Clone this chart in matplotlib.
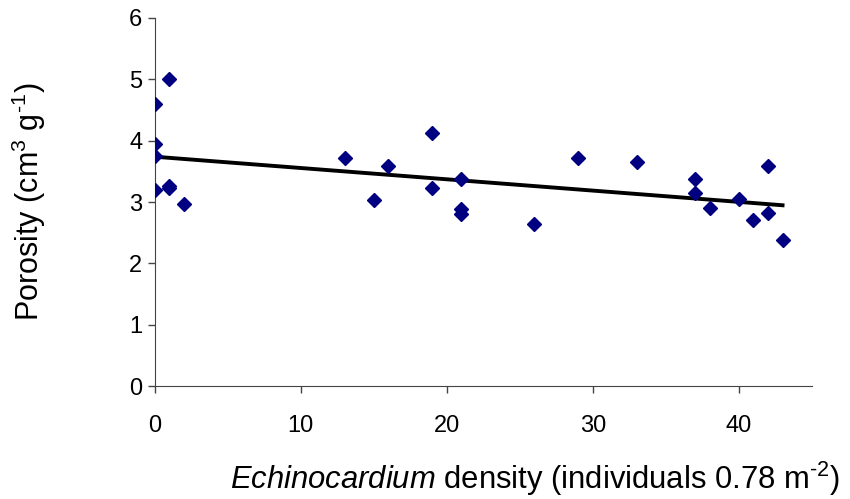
import numpy as np
import matplotlib.pyplot as plt

plt.rcParams['font.family'] = ['Liberation Sans', 'DejaVu Sans']
plt.rcParams['mathtext.fontset'] = 'custom'
plt.rcParams['mathtext.rm'] = 'Liberation Sans'
plt.rcParams['mathtext.it'] = 'Liberation Sans:italic'

# Echinocardium density vs porosity
density = [0, 1, 0, 0, 0, 1, 1, 2, 13, 15, 16, 19, 19, 21, 21, 21,
           26, 29, 33, 37, 37, 38, 40, 41, 42, 42, 43]
porosity = [4.60, 5.00, 3.94, 3.75, 3.19, 3.26, 3.23, 2.97, 3.72, 3.04, 3.59, 4.12, 3.23, 3.37, 2.88, 2.80,
            2.64, 3.72, 3.66, 3.37, 3.15, 2.91, 3.05, 2.71, 3.59, 2.83, 2.38]

# linear trend line
slope, intercept = np.polyfit(density, porosity, 1)
xfit = np.array([min(density), max(density)])
yfit = slope * xfit + intercept

fig = plt.figure(figsize=(8.5, 4.99), dpi=100)
ax = fig.add_axes([0.182, 0.226, 0.773, 0.738])

ax.plot(density, porosity, 'D', color='#000080', markersize=7.5, linestyle='none', zorder=3)
ax.plot(xfit, yfit, color='black', linewidth=2.8, zorder=2)

ax.set_xlim(0, 45)
ax.set_ylim(0, 6)
ax.set_xticks([0, 10, 20, 30, 40])
ax.set_yticks([0, 1, 2, 3, 4, 5, 6])

for side in ['top', 'right']:
    ax.spines[side].set_visible(False)
ax.spines['left'].set_color('#444444')
ax.spines['bottom'].set_color('#444444')
ax.tick_params(direction='out', length=5, width=1, color='#444444', labelsize=17, pad=4)
ax.tick_params(axis='x', pad=16)

# hyphen (not minus) in the superscripts, as in the original
ax.set_ylabel('Porosity (cm$^{3}$ g$^{\u20101}$)', fontsize=22)
ax.yaxis.set_label_coords(-0.163, 0.5)
ax.set_xlabel('$\\it{Echinocardium}$ density (individuals 0.78 m$^{\u20102}$)', fontsize=22.3)
ax.xaxis.set_label_coords(0.578, -0.2)

fig.savefig('out.png', dpi=100)
